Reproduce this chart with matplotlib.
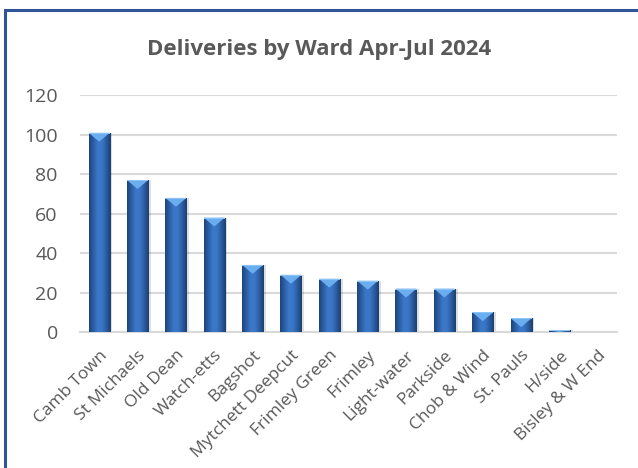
import numpy as np
import matplotlib.pyplot as plt
from matplotlib.colors import LinearSegmentedColormap
from matplotlib.patches import Polygon, Rectangle

# data
wards = ["Camb Town", "St Michaels", "Old Dean", "Watch-etts", "Bagshot",
         "Mytchett Deepcut", "Frimley Green", "Frimley", "Light-water",
         "Parkside", "Chob & Wind", "St. Pauls", "H/side", "Bisley & W End"]
deliveries = [101, 77, 68, 58, 34, 29, 27, 26, 22, 22, 10, 7, 1, 0]
y_ticks = [0, 20, 40, 60, 80, 100, 120]

text_col = "#595959"
grid_col = "#D9D9D9"
bar_cmap = LinearSegmentedColormap.from_list(
    "cyl", ["#1E4479", "#2C5FA6", "#3B78C8", "#3A76C5", "#2B5CA0", "#1B3F72"])

fig = plt.figure(figsize=(6.38, 4.68), dpi=100)
fig.patches.append(Rectangle((5 / 638, -0.1), 1.1, 1 - 10 / 468 + 0.1,
                             transform=fig.transFigure, fill=False,
                             edgecolor="#2F5597", linewidth=2.2))

ax = fig.add_axes([80 / 638, 1 - 332 / 468, 537 / 638, (332 - 95.3) / 468])
ax.set_xlim(-0.5, len(wards) - 0.5)
ax.set_ylim(0, 120)

width = 0.55
x = np.arange(len(wards))
grad = np.linspace(0, 1, 64).reshape(1, -1)
for xi, v in zip(x, deliveries):
    if v <= 0:
        continue
    left = xi - width / 2
    # soft shadow
    ax.add_patch(Rectangle((left + 0.07, 0), width, v, facecolor="#000000",
                           alpha=0.13, edgecolor="none", zorder=2))
    rect = Rectangle((left, 0), width, v, facecolor="none", edgecolor="none", zorder=3)
    ax.add_patch(rect)
    im = ax.imshow(grad, cmap=bar_cmap, aspect="auto",
                   extent=(left, left + width, 0, v), zorder=3)
    im.set_clip_path(rect)
    # bevel on top
    tri_h = min(4.5, v)
    ax.add_patch(Polygon([(left, v), (left + width, v), (xi, v - tri_h)],
                         closed=True, facecolor="#6AAEF0", edgecolor="none", zorder=4))
    ax.add_patch(Rectangle((left, v - 0.6), width, 0.6, facecolor="#8CC3F5",
                           edgecolor="none", zorder=4))

ax.set_yticks(y_ticks)
ax.set_yticklabels([str(t) for t in y_ticks])
ax.set_xticks(x)
ax.set_xticklabels(wards, rotation=45, ha="right", rotation_mode="anchor")
ax.tick_params(axis="both", length=0, colors=text_col)
ax.tick_params(axis="y", pad=16, labelsize=14)
ax.tick_params(axis="x", pad=11, labelsize=12.5)
for lab in ax.get_xticklabels() + ax.get_yticklabels():
    lab.set_fontfamily("Open Sans")

ax.grid(axis="y", color=grid_col, linewidth=1.5, zorder=0)
ax.set_axisbelow(True)
for s in ["top", "right", "left"]:
    ax.spines[s].set_visible(False)
ax.spines["bottom"].set_color(grid_col)
ax.spines["bottom"].set_linewidth(1.5)

fig.text(0.5, 1 - 49 / 468, "Deliveries by Ward Apr-Jul 2024", ha="center", va="center",
         fontsize=16, fontweight="bold", color=text_col, fontfamily="Open Sans")

fig.savefig("out.png", dpi=100)
